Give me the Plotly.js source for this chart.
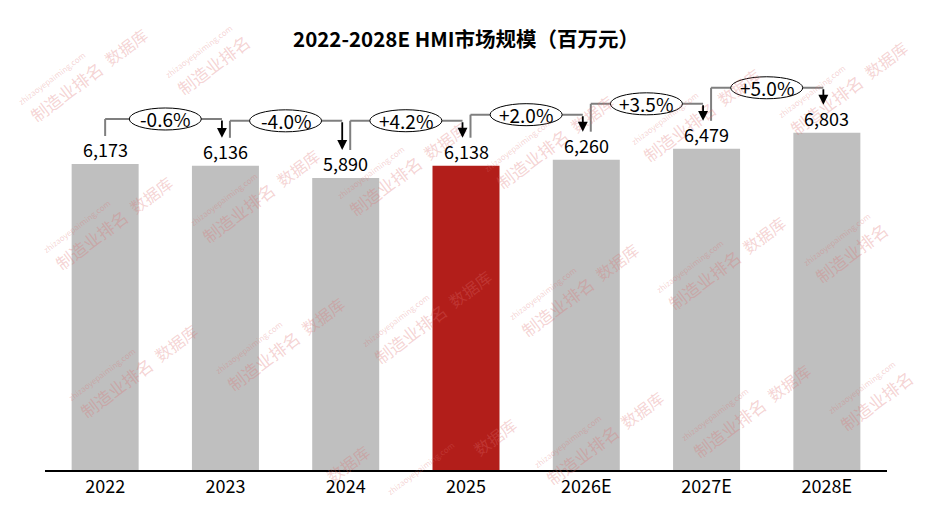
<!DOCTYPE html>
<html>
<head>
<meta charset="utf-8">
<script src="https://cdn.plot.ly/plotly-3.0.1.min.js"></script>
<style>html,body{margin:0;padding:0;background:#fff}#chart{width:939px;height:510px}</style>
</head>
<body>
<div id="chart"></div>
<script>
// ---- data ----
const categories = ['2022', '2023', '2024', '2025', '2026E', '2027E', '2028E'];
const values = [6173, 6136, 5890, 6138, 6260, 6479, 6803];
const growthLabels = ['-0.6%', '-4.0%', '+4.2%', '+2.0%', '+3.5%', '+5.0%'];
const highlightCategory = '2025';
const chartTitle = '2022-2028E HMI市场规模（百万元）';
const watermarkMain = '制造业排名';
const watermarkCloud = '数据库';
const watermarkUrl = 'zhizaoyepaiming.com';

// ---- layout constants ----
const W = 939, H = 510;
const M = {l: 45, r: 52, t: 70, b: 40};
const plotW = W - M.l - M.r, plotH = H - M.t - M.b;
const yMax = 8069;
const upp = yMax / plotH;                 // data units per pixel (y)
const xpp = categories.length / plotW;    // category units per pixel (x)
const FONT = '"Noto Sans CJK SC", "Noto Sans", sans-serif';

const GRAY = '#BFBFBF', RED = '#B21E1A';
const colors = categories.map(c => c === highlightCategory ? RED : GRAY);

const shapes = [];
const annotations = [];

// watermark tiles (pixel grid converted to paper coords), drawn first
const toPX = px => (px - M.l) / plotW;
const toPY = py => 1 - (py - M.t) / plotH;
const ang = 37 * Math.PI / 180;
const d = [Math.cos(ang), -Math.sin(ang)];
const n = [-Math.sin(ang), -Math.cos(ang)];
const wmColor = 'rgba(222,110,110,0.30)';
const wmParts = [
  {t: watermarkMain, k: 42, m: 0, s: 17, half: 45},
  {t: watermarkCloud, k: 116, m: 0, s: 16, half: 26},
  {t: watermarkUrl, k: 38, m: 20, s: 8, half: 40}
];
for (let r = -1; r <= 4; r++) {
  for (let c = -1; c <= 7; c++) {
    const px = 33 + c * 147 + r * 25;
    const py = 117 - c * 27 + r * 148;
    wmParts.forEach(p => {
      const cx = px + p.k * d[0] + p.m * n[0];
      const cy = py + p.k * d[1] + p.m * n[1];
      const ex = p.half * d[0] + 8, ey = -p.half * d[1] + 10;
      if (cx - ex < 2 || cx + ex > W - 2 || cy - ey < 2 || cy + ey > H - 2) return;
      annotations.push({
        x: toPX(cx), y: toPY(cy), xref: 'paper', yref: 'paper', text: p.t,
        showarrow: false, textangle: -37, xanchor: 'center', yanchor: 'middle',
        font: {family: FONT, size: p.s, color: wmColor}
      });
    });
  }
}

// value labels
values.forEach((v, i) => {
  annotations.push({
    x: i, y: v, xref: 'x', yref: 'y', text: v.toLocaleString('en-US'),
    showarrow: false, xanchor: 'center', yanchor: 'bottom', yshift: 0,
    font: {family: FONT, size: 18, color: '#000'}
  });
});

// growth brackets
const ellipses = [];
for (let i = 0; i < values.length - 1; i++) {
  const xs = i + (i === 0 ? 0 : 4.5) * xpp;
  const xe = (i + 1) - 3.5 * xpp;
  const ys = values[i] + 28 * upp;
  const yt = values[i + 1] + 28 * upp;
  const hy = Math.max(values[i], values[i + 1]) + 45 * upp;
  const lineStyle = {color: '#7F7F7F', width: 2};
  shapes.push({type: 'line', xref: 'x', yref: 'y', x0: xs, x1: xs, y0: ys, y1: hy, line: lineStyle, layer: 'above'});
  shapes.push({type: 'line', xref: 'x', yref: 'y', x0: xs, x1: xe, y0: hy, y1: hy, line: lineStyle, layer: 'above'});
  annotations.push({
    x: xe, y: yt, ax: xe, ay: hy, xref: 'x', yref: 'y', axref: 'x', ayref: 'y',
    text: '', showarrow: true, arrowhead: 2, arrowsize: 1.1, arrowwidth: 1.8,
    arrowcolor: '#000', standoff: 0, startstandoff: 0
  });
  ellipses.push({
    type: 'circle', xref: 'x', yref: 'y', xsizemode: 'pixel', ysizemode: 'pixel',
    xanchor: i + 0.5, yanchor: hy, x0: -36, x1: 36, y0: -11, y1: 11,
    fillcolor: '#fff', line: {color: '#000', width: 1}, layer: 'above'
  });
  annotations.push({
    x: i + 0.5, y: hy, xref: 'x', yref: 'y', text: growthLabels[i], showarrow: false,
    xanchor: 'center', yanchor: 'middle', font: {family: FONT, size: 19, color: '#000'}
  });
}
shapes.push(...ellipses);

const trace = {
  type: 'bar', x: categories, y: values, width: 0.557,
  marker: {color: colors, line: {width: 0}}, hoverinfo: 'none'
};

const layout = {
  width: W, height: H, margin: M, paper_bgcolor: '#fff', plot_bgcolor: '#fff',
  showlegend: false,
  title: {text: '<b>' + chartTitle + '</b>', x: 0.5, xref: 'paper', xanchor: 'center',
          y: 1 - 40 / H, yref: 'container', yanchor: 'middle',
          font: {family: FONT, size: 20.5, color: '#000'}},
  xaxis: {type: 'category', range: [-0.5, categories.length - 0.5], showline: true,
          linecolor: '#000', linewidth: 1.5, ticks: '', showgrid: false, zeroline: false,
          tickfont: {family: FONT, size: 18, color: '#000'}, fixedrange: true},
  yaxis: {visible: false, range: [0, yMax], showgrid: false, zeroline: false, fixedrange: true},
  shapes: shapes, annotations: annotations
};

Plotly.newPlot('chart', [trace], layout, {displayModeBar: false, staticPlot: true});
</script>
</body>
</html>
